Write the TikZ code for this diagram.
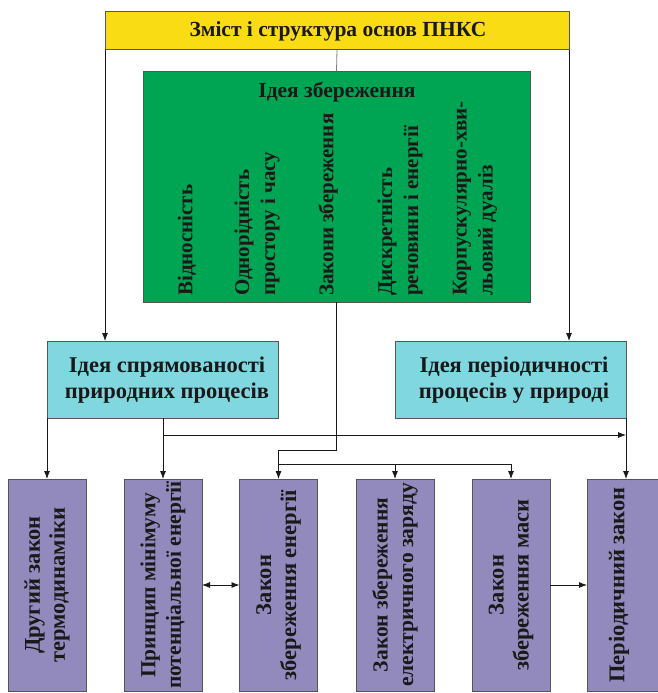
\documentclass[tikz,border=0pt]{standalone}
\usepackage{fontspec}
\setmainfont{Liberation Serif}
\usetikzlibrary{arrows.meta}
\definecolor{cyel}{RGB}{249,220,20}
\definecolor{cgrn}{RGB}{0,165,84}
\definecolor{ccyan}{RGB}{128,215,224}
\definecolor{cpur}{RGB}{146,138,188}
\definecolor{cbord}{RGB}{85,85,85}
\definecolor{ctxt}{RGB}{25,25,25}
\begin{document}
\begin{tikzpicture}[x=1pt,y=-1pt,
  box/.style={draw=cbord, line width=1pt, inner sep=0pt, outer sep=0pt},
  lbl/.style={font=\fontsize{21.5}{25.5}\selectfont\bfseries, text=ctxt, align=center, inner sep=0pt},
  vlbl/.style={lbl, rotate=90},
  glbl/.style={lbl, font=\fontsize{21}{26}\selectfont\bfseries, rotate=90, anchor=west, align=left},
  con/.style={draw=ctxt, line width=0.8pt},
  arr/.style={con, -{Latex[length=8pt,width=6pt]}},
  darr/.style={con, {Latex[length=8pt,width=6pt]}-{Latex[length=8pt,width=6pt]}}]
\useasboundingbox (0,0) rectangle (658,693);
\clip (0,0) rectangle (658,693);
\fill[white] (0,0) rectangle (658,693);

% top box
\node[box, fill=cyel, minimum width=464pt, minimum height=38pt] (yel) at (337,31) {};
\node[lbl] (yelt) at (338,31) {Зміст і структура основ ПНКС};

% green box
\node[box, fill=cgrn, minimum width=387pt, minimum height=231pt] (grn) at (336.5,186.5) {};
\node[lbl] (grnt) at (337,92) {Ідея збереження};
\node[glbl] (g1) at (187,296) {Відносність};
\node[glbl] (g2) at (257,296) {Однорідність\\простору і часу};
\node[glbl] (g3) at (328,296) {Закони збереження};
\node[glbl] (g4) at (400,296) {Дискретність\\речовини і енергії};
\node[glbl] (g5) at (475,296) {Корпускулярно-хви-\\льовий дуаліз};

% cyan boxes
\node[box, fill=ccyan, minimum width=231pt, minimum height=77pt] (cyL) at (162.5,379.5) {};
\node[lbl, font=\fontsize{22.5}{25.5}\selectfont\bfseries] (cyLt) at (167,380) {Ідея спрямованості\\природних процесів};
\node[box, fill=ccyan, minimum width=231pt, minimum height=77pt] (cyR) at (510.5,379.5) {};
\node[lbl, font=\fontsize{22.5}{25.5}\selectfont\bfseries] (cyRt) at (514,380) {Ідея періодичності\\процесів у природі};

% bottom boxes
\foreach \i/\x in {1/47,2/163,3/278.5,4/395,5/511,6/626}{
  \node[box, fill=cpur, minimum width=78pt, minimum height=212pt] (b\i) at (\x,585) {};
}
\node[vlbl, font=\fontsize{22.5}{25}\selectfont\bfseries] (t1) at (b1.center) {Другий закон\\термодинаміки};
\node[vlbl] (t2) at (b2.center) {Принцип мінімуму\\потенціальної енергії};
\node[vlbl, font=\fontsize{22.5}{25}\selectfont\bfseries] (t3) at (b3.center) {Закон\\збереження енергії};
\node[vlbl] (t4) at (b4.center) {Закон збереження\\електричного заряду};
\node[vlbl, font=\fontsize{22.5}{25}\selectfont\bfseries] (t5) at (b5.center) {Закон\\збереження маси};
\node[vlbl, font=\fontsize{22.5}{25}\selectfont\bfseries] (t6) at ([xshift=-7pt]b6.center) {Періодичний закон};

% connectors
\draw[con, draw=gray] (yel.south) -- (grn.north);
\draw[arr] (yel.south west) -- (yel.south west |- cyL.north);
\draw[arr] (yel.south east) -- (yel.south east |- cyR.north);

\coordinate (j1) at (grn.south |- 0,450);
\coordinate (j2) at (b3.north |- 0,450);
\draw[arr] (grn.south) -- (j1) -- (j2) -- (b3.north);
\coordinate (bus3) at (b3.north |- 0,464);
\coordinate (bus4) at (b4.north |- 0,464);
\coordinate (bus5) at (b5.north |- 0,464);
\draw[con] (bus3) -- (bus5);
\draw[arr] (bus4) -- (b4.north);
\draw[arr] (bus5) -- (b5.north);

\draw[arr] (cyL.south west) -- (b1.north);
\draw[arr] (cyL.south -| b2.north) -- (b2.north);
\coordinate (h1) at (b2.north |- 0,435);
\coordinate (h2) at (cyR.south east |- 0,435);
\draw[arr] (h1) -- (h2);
\draw[arr] (cyR.south east) -- (cyR.south east |- b6.north);

\draw[darr] (b2.east) -- (b3.west);
\draw[arr] (b5.east) -- (b6.west);
\end{tikzpicture}
\end{document}
